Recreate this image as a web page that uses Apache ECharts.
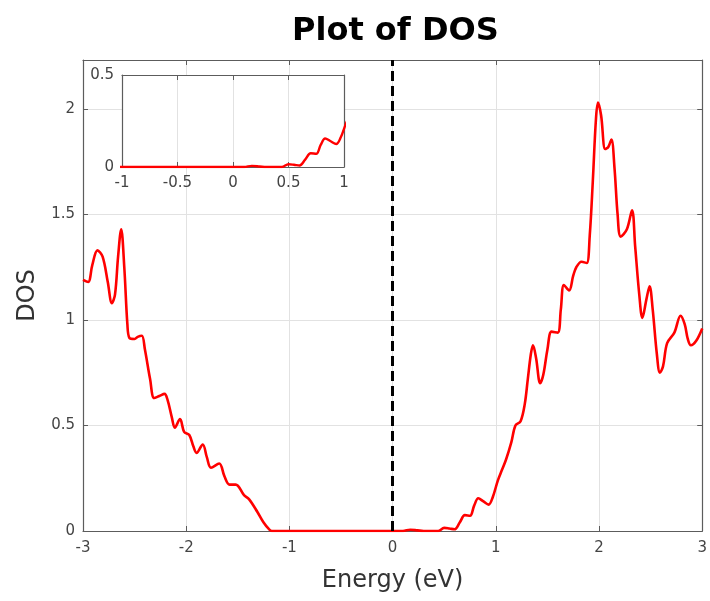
<!DOCTYPE html>
<html>
<head>
<meta charset="utf-8">
<script src="https://cdn.jsdelivr.net/npm/echarts@6/dist/echarts.min.js"></script>
<style>
html,body{margin:0;padding:0;background:#fff;}
#chart{width:710px;height:601px;}
</style>
</head>
<body>
<div id="chart"></div>
<script>
const titleText = 'Plot of DOS';
const xName = 'Energy (eV)';
const yName = 'DOS';
const fermiLevel = [0];
const energy = [
  -3.00, -2.95, -2.91, -2.86, -2.81, -2.76, -2.72, -2.69, -2.66, -2.63,
  -2.60, -2.57, -2.55, -2.50, -2.47, -2.43, -2.40, -2.35, -2.31, -2.26,
  -2.21, -2.18, -2.14, -2.11, -2.06, -2.02, -1.97, -1.93, -1.90, -1.84,
  -1.80, -1.76, -1.68, -1.63, -1.58, -1.52, -1.44, -1.39, -1.31, -1.25,
  -1.20, -1.17, -1.00, -0.50, 0.00, 0.10, 0.17, 0.24, 0.30, 0.44,
  0.50, 0.55, 0.60, 0.65, 0.70, 0.75, 0.79, 0.83, 0.88, 0.93,
  0.97, 1.02, 1.06, 1.10, 1.15, 1.19, 1.24, 1.28, 1.31, 1.34,
  1.36, 1.39, 1.43, 1.46, 1.50, 1.54, 1.60, 1.63, 1.66, 1.71,
  1.75, 1.78, 1.83, 1.88, 1.91, 1.94, 1.97, 1.99, 2.02, 2.06,
  2.09, 2.12, 2.15, 2.18, 2.21, 2.27, 2.32, 2.35, 2.39, 2.42,
  2.46, 2.49, 2.52, 2.56, 2.59, 2.62, 2.66, 2.73, 2.79, 2.83,
  2.86, 2.89, 2.94, 3.00
];
const dos = [
  1.19, 1.18, 1.26, 1.33, 1.30, 1.18, 1.08, 1.12, 1.30, 1.43,
  1.25, 0.98, 0.915, 0.91, 0.92, 0.925, 0.86, 0.72, 0.63, 0.64,
  0.65, 0.62, 0.54, 0.49, 0.53, 0.47, 0.455, 0.40, 0.37, 0.41,
  0.35, 0.30, 0.32, 0.26, 0.22, 0.22, 0.17, 0.15, 0.09, 0.04,
  0.01, 0.00, 0.00, 0.00, 0.00, 0.00, 0.006, 0.003, 0.00, 0.00,
  0.015, 0.012, 0.008, 0.04, 0.075, 0.072, 0.12, 0.155, 0.14, 0.125,
  0.16, 0.24, 0.29, 0.34, 0.42, 0.50, 0.52, 0.60, 0.72, 0.84,
  0.88, 0.82, 0.70, 0.74, 0.86, 0.945, 0.94, 1.05, 1.166, 1.14,
  1.21, 1.25, 1.276, 1.27, 1.40, 1.66, 1.95, 2.03, 1.97, 1.81,
  1.82, 1.855, 1.72, 1.50, 1.395, 1.43, 1.52, 1.35, 1.12, 1.01,
  1.10, 1.16, 1.05, 0.84, 0.75, 0.78, 0.89, 0.94, 1.02, 0.98,
  0.91, 0.88, 0.90, 0.96
];
const mainXTicks = [-3, -2, -1, 0, 1, 2, 3];
const mainYTicks = [0, 0.5, 1, 1.5, 2];
const insetXTicks = [-1, -0.5, 0, 0.5, 1];
const insetYTicks = [0, 0.5];

const pts = energy.map((e, i) => [e, dos[i]]);
const FONT = 'DejaVu Sans';
const lineCol = '#5c5c5c';
const labCol = '#444444';
const gridCol = '#e2e2e2';

function axisX(gi, ticks, opts) {
  return Object.assign({
    type: 'value', gridIndex: gi,
    min: ticks[0], max: ticks[ticks.length - 1], interval: ticks[1] - ticks[0],
    axisLine: {show: true, onZero: false, lineStyle: {color: lineCol, width: 1.2}},
    axisTick: {show: true, inside: true, length: 5, lineStyle: {color: lineCol}},
    axisLabel: {show: true, color: labCol, fontFamily: FONT, fontSize: 15, margin: 10,
      formatter: v => String(v)},
    splitLine: {show: true, lineStyle: {color: gridCol, width: 1}}
  }, opts || {});
}
function axisY(gi, ticks, max, opts) {
  return Object.assign({
    type: 'value', gridIndex: gi,
    min: ticks[0], max: max, interval: ticks[1] - ticks[0],
    axisLine: {show: true, onZero: false, lineStyle: {color: lineCol, width: 1.2}},
    axisTick: {show: true, inside: true, length: 5, lineStyle: {color: lineCol}},
    axisLabel: {show: true, color: labCol, fontFamily: FONT, fontSize: 15, margin: 8,
      showMaxLabel: max === ticks[ticks.length - 1],
      formatter: v => String(v)},
    splitLine: {show: true, lineStyle: {color: gridCol, width: 1}}
  }, opts || {});
}
const hidden = {axisLabel: {show: false}, splitLine: {show: false}};

const dashLine = {
  silent: true, symbol: ['none', 'none'], label: {show: false},
  lineStyle: {color: '#000', width: 3, type: [10, 5]},
  data: fermiLevel.map(v => ({xAxis: v}))
};

const chart = echarts.init(document.getElementById('chart'));
chart.setOption({
  backgroundColor: '#fff',
  animation: false,
  title: {
    text: titleText, left: 287, top: 11,
    textStyle: {fontFamily: FONT, fontSize: 32, fontWeight: 'bold', color: '#000'}
  },
  grid: [
    {left: 83, right: 5, top: 60, bottom: 70, show: false},
    {left: 122, top: 75, width: 222, height: 92, show: true, backgroundColor: '#fff', borderWidth: 0, z: 10}
  ],
  xAxis: [
    axisX(0, mainXTicks, {name: xName, nameLocation: 'middle', nameGap: 38,
      nameTextStyle: {fontFamily: FONT, fontSize: 24, color: '#333'}}),
    axisX(0, mainXTicks, Object.assign({position: 'top'}, hidden)),
    axisX(1, insetXTicks, {z: 11, axisLabel: {color: labCol, fontFamily: FONT, fontSize: 15, margin: 9, formatter: v => String(v)}}),
    axisX(1, insetXTicks, Object.assign({position: 'top', z: 11}, hidden))
  ],
  yAxis: [
    axisY(0, mainYTicks, 2.232, {name: yName, nameLocation: 'middle', nameGap: 40,
      nameTextStyle: {fontFamily: FONT, fontSize: 24, color: '#333'}}),
    axisY(0, mainYTicks, 2.232, Object.assign({position: 'right'}, hidden)),
    axisY(1, insetYTicks, 0.5, {z: 11, splitLine: {show: false}}),
    axisY(1, insetYTicks, 0.5, Object.assign({position: 'right', z: 11}, hidden))
  ],
  series: [
    {
      type: 'line', xAxisIndex: 0, yAxisIndex: 0, data: pts,
      showSymbol: false, smooth: 0.35, z: 3,
      lineStyle: {color: '#ff0000', width: 2.6},
      markLine: dashLine
    },
    {
      type: 'line', xAxisIndex: 2, yAxisIndex: 2, data: pts,
      showSymbol: false, smooth: 0.35, z: 12, clip: true,
      lineStyle: {color: '#ff0000', width: 2.4},
      markLine: Object.assign({}, dashLine, {lineStyle: {color: '#000', width: 3, type: [8, 4]}})
    }
  ]
});
</script>
</body>
</html>
